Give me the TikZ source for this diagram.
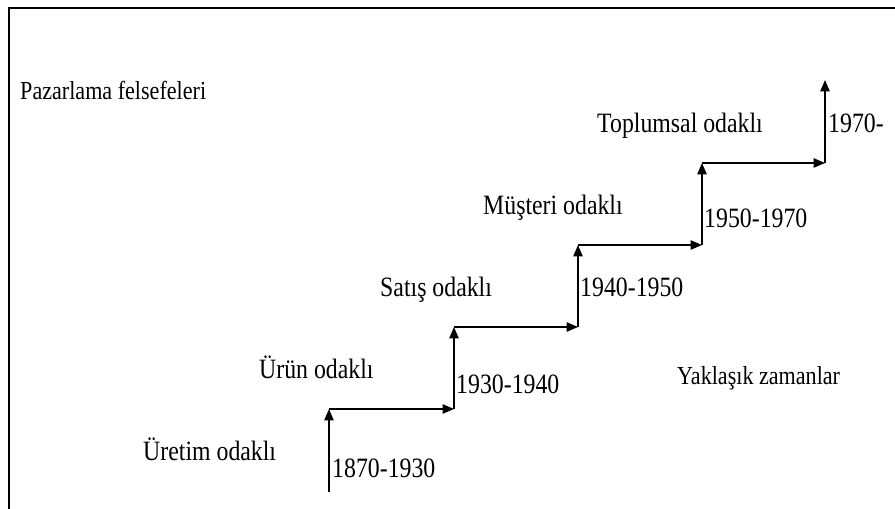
\documentclass[tikz,border=0pt]{standalone}
\usepackage{fontspec}
\setmainfont{Liberation Serif}
\usetikzlibrary{arrows.meta, positioning}

\begin{document}
\begin{tikzpicture}[
  x=0.75pt, y=-0.75pt,
  phil/.style={anchor=base west, inner sep=0pt, xscale=0.85, font=\fontsize{21}{24}\selectfont},
  era/.style={anchor=base west, inner sep=0pt, xscale=0.85, font=\fontsize{21}{24}\selectfont},
  note/.style={anchor=base west, inner sep=0pt, xscale=0.85, font=\fontsize{19.5}{22}\selectfont},
  arr/.style={-{Triangle[length=8.5pt, width=7pt]}, line width=1pt, black},
  frame/.style={line width=2pt, black}
]
\useasboundingbox (0,0) rectangle (895,509);
% Frame
\draw[frame](9,509)--(9,8)--(895,8);
% Corners of the stairs
\coordinate (s0) at (329,492);
\coordinate (c1) at (329,409);
\coordinate (c2) at (454,409);
\coordinate (c3) at (454,327);
\coordinate (c4) at (578,327);
\coordinate (c5) at (578,245);
\coordinate (c6) at (702,245);
\coordinate (c7) at (702,163);
\coordinate (c8) at (825,163);
\coordinate (c9) at (825,80);
% Stairs
\draw[arr](s0)--(c1);
\draw[arr](c1)--(c2);
\draw[arr](c2)--(c3);
\draw[arr](c3)--(c4);
\draw[arr](c4)--(c5);
\draw[arr](c5)--(c6);
\draw[arr](c6)--(c7);
\draw[arr](c7)--(c8);
\draw[arr](c8)--(c9);
% Philosophies
\node[note](title) at (20,100){Pazarlama felsefeleri};
\node[phil](uret) at (143,460){Üretim odaklı};
\node[phil](urun) at (259,378){Ürün odaklı};
\node[phil](sat) at (380,297){Satış odaklı};
\node[phil](must) at (483,215){Müşteri odaklı};
\node[phil](topl) at (597,133){Toplumsal odaklı};
% Periods
\node[era](d1) at (332,477){1870-1930};
\node[era](d2) at (456,393){1930-1940};
\node[era](d3) at (580,297){1940-1950};
\node[era](d4) at (704,228){1950-1970};
\node[era](d5) at (828,133){1970-};
\node[note](zaman) at (677,384){Yaklaşık zamanlar};
\end{tikzpicture}
\end{document}
